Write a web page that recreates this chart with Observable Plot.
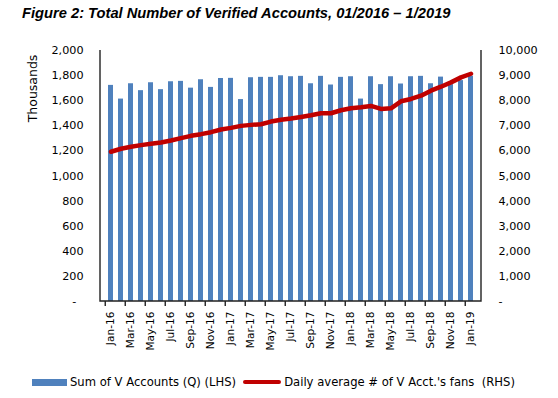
<!DOCTYPE html>
<html><head><meta charset="utf-8">
<script src="https://cdn.jsdelivr.net/npm/d3@7"></script>
<script src="https://cdn.jsdelivr.net/npm/@observablehq/plot@0.6"></script>
<style>
body{margin:0;background:#fff;}
#wrap{position:relative;width:558px;height:398px;overflow:hidden;font-family:"DejaVu Sans",sans-serif;color:#000;}
#title{position:absolute;left:22px;top:5px;font:italic bold 14.7px "Liberation Sans",Arial,sans-serif;line-height:16px;white-space:nowrap;}
#chart{position:absolute;left:0;top:30px;}
#legend{position:absolute;left:32px;top:375px;height:14px;display:flex;align-items:center;font-size:11.6px;white-space:pre;}
.sw-bar{width:35px;height:7px;background:#4f81bd;margin-right:3px;}
.sw-line{width:38px;height:4px;background:#c00000;border-radius:2px;margin:0 3px 0 7px;}
</style></head>
<body><div id="wrap">
<div id="title">Figure 2: Total Number of Verified Accounts, 01/2016 – 1/2019</div>
<div id="chart"></div>
<div id="legend"><span class="sw-bar"></span><span>Sum of V Accounts (Q) (LHS)</span><span class="sw-line"></span><span>Daily average # of V Acct.'s fans  (RHS)</span></div>
</div>
<script>
const months = ["Jan-16","Feb-16","Mar-16","Apr-16","May-16","Jun-16","Jul-16","Aug-16","Sep-16","Oct-16","Nov-16","Dec-16",
  "Jan-17","Feb-17","Mar-17","Apr-17","May-17","Jun-17","Jul-17","Aug-17","Sep-17","Oct-17","Nov-17","Dec-17",
  "Jan-18","Feb-18","Mar-18","Apr-18","May-18","Jun-18","Jul-18","Aug-18","Sep-18","Oct-18","Nov-18","Dec-18","Jan-19"];
// Sum of V Accounts (thousands, LHS)
const accounts = [1722,1613,1735,1680,1743,1688,1751,1754,1700,1767,1706,1777,
  1778,1609,1783,1786,1786,1799,1791,1794,1735,1794,1725,1786,
  1791,1613,1791,1728,1791,1733,1791,1794,1735,1788,1728,1760,1795];
// Daily average # of V Acct.'s fans (RHS)
const fans = [5966,6085,6164,6230,6283,6336,6415,6508,6600,6667,6746,6852,
  6918,6997,7037,7063,7169,7240,7290,7354,7421,7500,7500,7619,
  7698,7738,7791,7672,7698,7976,8069,8201,8399,8558,8730,8929,9074];
const leftTicks = [0,200,400,600,800,1000,1200,1400,1600,1800,2000];
const rightTicks = [0,1000,2000,3000,4000,5000,6000,7000,8000,9000,10000];
const ratio = 10000 / 2000;
const labelMonths = months.filter((m, i) => i % 2 === 0);
const data = months.map((m, i) => ({month: m, accounts: accounts[i], fans: fans[i]}));
const fmt = d3.format(",");

const axisLines = (index, scales, values, dims) => {
  const g = d3.create("svg:g").attr("stroke", "#222").attr("stroke-width", 1.4).attr("fill", "none");
  const l = dims.marginLeft, r = dims.width - dims.marginRight, t = dims.marginTop, b = dims.height - dims.marginBottom;
  g.append("path").attr("d", `M${l},${t}V${b}H${r}V${t}`);
  const x = scales.x, step = x.step(), pi = x.paddingInner();
  labelMonths.forEach(m => {
    const xx = x(m) - step * pi / 2;
    g.append("path").attr("d", `M${xx},${b}v5`);
  });
  return g.node();
};

const chart = Plot.plot({
  width: 558, height: 340,
  marginLeft: 100, marginRight: 77, marginTop: 20, marginBottom: 69,
  style: {fontFamily: "DejaVu Sans", fontSize: "11px", color: "#000", background: "transparent"},
  x: {type: "band", domain: months, paddingInner: 0.55, paddingOuter: 0.275, axis: null},
  y: {domain: [0, 2000], axis: null},
  marks: [
    Plot.barY(data, {x: "month", y: "accounts", fill: "#4f81bd"}),
    Plot.lineY(data, {x: "month", y: d => d.fans / ratio, stroke: "#c00000", strokeWidth: 4.5, strokeLinejoin: "round", strokeLinecap: "round"}),
    axisLines,
    Plot.axisX({ticks: labelMonths, tickSize: 0, tickPadding: 10, tickRotate: -90, fontSize: 10.6, label: null}),
    Plot.axisY({anchor: "left", ticks: leftTicks, tickSize: 0, tickPadding: 17, fontSize: 11.2, label: null,
      tickFormat: d => d === 0 ? "-\u2007" : fmt(d)}),
    Plot.axisY({anchor: "right", ticks: rightTicks.map(v => v / ratio), tickSize: 0, tickPadding: 17, fontSize: 11.2, label: null,
      tickFormat: d => d === 0 ? "-" : fmt(d * ratio)}),
    Plot.text(["Thousands"], {frameAnchor: "top-left", rotate: -90, dx: -68, dy: 38, textAnchor: "middle", lineAnchor: "middle", fontSize: 12.5})
  ]
});
document.getElementById("chart").append(chart);
</script>
</body></html>
